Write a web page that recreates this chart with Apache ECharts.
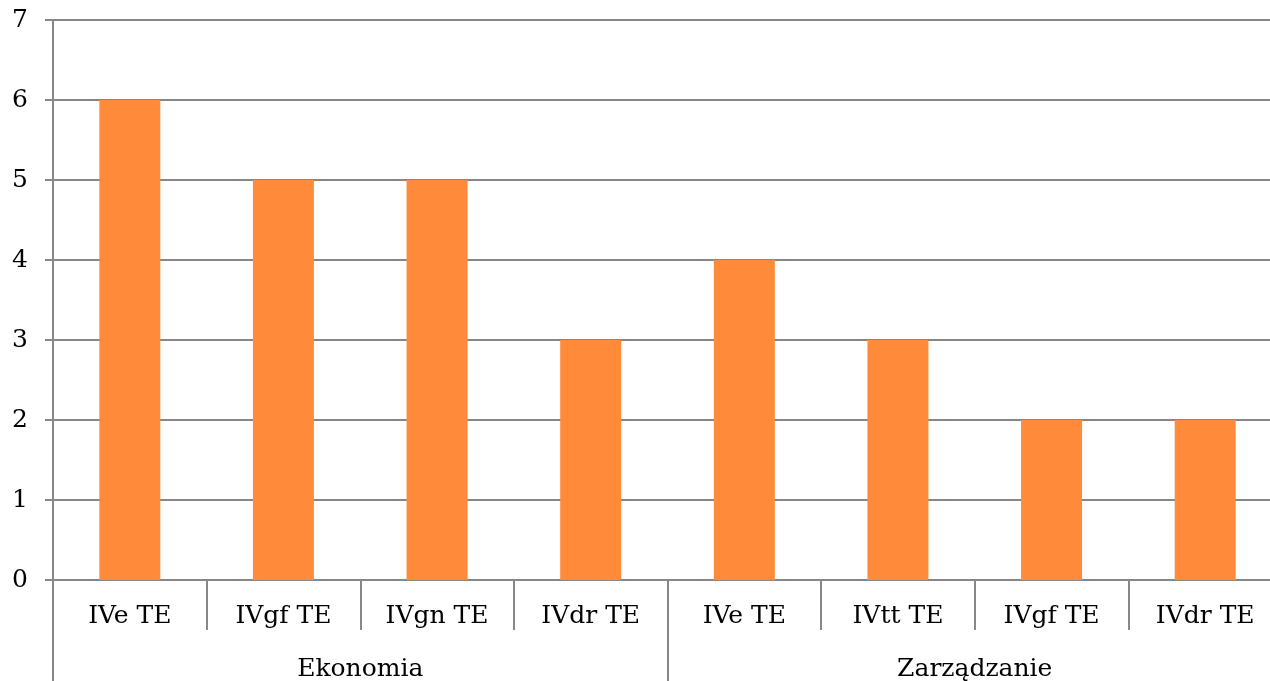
<!DOCTYPE html>
<html><head><meta charset="utf-8">
<script src="https://cdn.jsdelivr.net/npm/echarts@6/dist/echarts.min.js"></script>
<style>html,body{margin:0;padding:0;background:#fff}#c{width:1270px;height:681px}</style>
</head><body><div id="c"></div>
<script>
const categories = ['IVe TE','IVgf TE','IVgn TE','IVdr TE','IVe TE','IVtt TE','IVgf TE','IVdr TE'];
const groups = ['Ekonomia','Zarządzanie'];
const values = [6,5,5,3,4,3,2,2];
const yTicks = [0,1,2,3,4,5,6,7];

const FONT = 'DejaVu Serif';
const FS = 25;
const GRAY = '#878787';
const chart = echarts.init(document.getElementById('c'));
chart.setOption({
  animation:false,
  grid:{left:53, top:20, right:-12, bottom:101, outerBoundsMode:'none', containLabel:false},
  xAxis:[{
    type:'category', data:categories, position:'bottom',
    axisLine:{show:true, lineStyle:{color:GRAY,width:2}},
    axisTick:{show:true, interval:0, length:50, lineStyle:{color:GRAY,width:2}},
    axisLabel:{interval:0, margin:24, color:'#000', fontFamily:FONT, fontSize:FS}
  },{
    type:'category', data:groups, position:'bottom',
    axisLine:{show:false},
    axisTick:{show:true, interval:0, length:101, lineStyle:{color:GRAY,width:2}},
    axisLabel:{interval:0, margin:77, color:'#000', fontFamily:FONT, fontSize:FS}
  }],
  yAxis:{
    type:'value', min:0, max:7, interval:1,
    axisLine:{show:true, lineStyle:{color:GRAY,width:2}},
    axisTick:{show:true, length:8, lineStyle:{color:GRAY,width:2}},
    splitLine:{show:true, lineStyle:{color:GRAY,width:2}},
    axisLabel:{margin:25, color:'#000', fontFamily:FONT, fontSize:FS,
      formatter:v=>yTicks.includes(v)?String(v):''}
  },
  series:[{type:'bar', xAxisIndex:0, data:values, barWidth:61, itemStyle:{color:'#FF8B3A'}}]
});
</script></body></html>
